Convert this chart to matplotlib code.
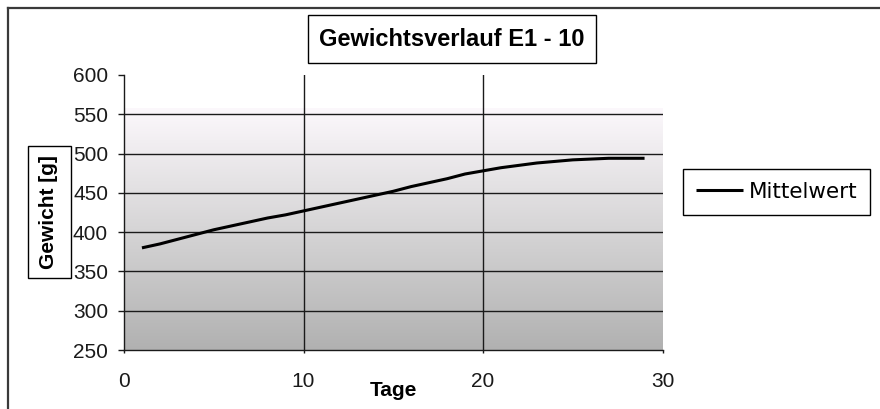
import numpy as np
import matplotlib
matplotlib.use("Agg")
import matplotlib.pyplot as plt
from matplotlib.patches import Rectangle
from matplotlib.lines import Line2D
from matplotlib.colors import LinearSegmentedColormap

# Daily mean body weight (g)
days = list(range(1, 30))
weight = [380, 385, 391, 397, 403, 408, 413, 418, 422, 427,
          432, 437, 442, 447, 452, 458, 463, 468, 474, 478,
          482, 485, 488, 490, 492, 493, 494, 494, 494]
series_name = "Mittelwert"
title = "Gewichtsverlauf E1 - 10"
x_label = "Tage"
y_label = "Gewicht [g]"
x_ticks = [0, 10, 20, 30]
y_ticks = [250, 300, 350, 400, 450, 500, 550, 600]
y_gridlines = [300, 350, 400, 450, 500, 550]
x_gridlines = [10, 20]

plt.rcParams['font.family'] = ['Liberation Sans', 'DejaVu Sans']

W, H = 880, 409
fig = plt.figure(figsize=(W / 100, H / 100), dpi=100)
fig.patch.set_facecolor('white')

# Axes area in pixel terms
ax_l, ax_r, ax_t, ax_b = 124, 662.5, 75, 350
ax = fig.add_axes([ax_l / W, 1 - ax_b / H, (ax_r - ax_l) / W, (ax_b - ax_t) / H])
ax.set_facecolor('white')

# Grey-to-white vertical gradient behind the plot
grad = LinearSegmentedColormap.from_list("bg", ["#b1b1b1", "#d6d5d6", "#fcf8fc"])
ax.imshow(np.linspace(0, 1, 256).reshape(-1, 1), cmap=grad, origin='lower',
          extent=(0, 30, 250, 557), aspect='auto', zorder=0,
          interpolation='bilinear')

for yv in y_gridlines:
    ax.axhline(yv, color='#1a1a1a', lw=1.0, zorder=1)
for xv in x_gridlines:
    ax.axvline(xv, color='#1a1a1a', lw=1.0, zorder=1)

ax.plot(days, weight, color='black', lw=2.2, label=series_name,
        solid_capstyle='butt', zorder=3)

ax.set_xlim(0, 30)
ax.set_ylim(250, 600)
ax.set_xticks(x_ticks)
ax.set_yticks(y_ticks)

for side in ('top', 'right'):
    ax.spines[side].set_visible(False)
for side in ('left', 'bottom'):
    ax.spines[side].set_color('#1a1a1a')
    ax.spines[side].set_linewidth(1.0)

ax.tick_params(axis='y', direction='out', length=4.5, width=1.0, pad=7,
               labelsize=15, colors='#1a1a1a')
ax.tick_params(axis='x', direction='out', length=2.5, width=1.0, pad=13,
               labelsize=15, colors='#1a1a1a')

# Axis labels
ax.set_xlabel(x_label, fontsize=15, fontweight='bold')
ax.xaxis.set_label_coords(0.5, (ax_b - 396.5) / (ax_b - ax_t))
ax.xaxis.label.set_va('baseline')

ax.set_ylabel(y_label, fontsize=15, fontweight='bold')
ax.yaxis.set_label_coords((53.5 - ax_l) / (ax_r - ax_l), (ax_b - 212.5) / (ax_b - ax_t))
ax.yaxis.label.set_va('baseline')
fig.add_artist(Rectangle((28 / W, 1 - 278 / H), 43 / W, 132 / H,
                         transform=fig.transFigure, fill=False,
                         ec='black', lw=1.0))

# Boxed title
fig.text(452 / W, 1 - 46 / H, title, ha='center', va='baseline',
         fontsize=17, fontweight='bold')
fig.add_artist(Rectangle((308 / W, 1 - 63 / H), 288 / W, 48 / H,
                         transform=fig.transFigure, fill=False,
                         ec='black', lw=1.0))

# Legend
leg = ax.legend(loc='center left', bbox_to_anchor=(683 / W, 1 - 192 / H),
                bbox_transform=fig.transFigure, frameon=True, fancybox=False,
                edgecolor='black', framealpha=1,
                prop={'family': 'DejaVu Sans', 'size': 15.5},
                handlelength=2.2, handletextpad=0.25, borderpad=0.6,
                borderaxespad=0)
leg.get_frame().set_linewidth(1.0)

# Chart frame (top and left edges)
fig.add_artist(Line2D([8 / W, 1], [1 - 8 / H, 1 - 8 / H],
                      transform=fig.transFigure, color='#3a3a3a', lw=1.6))
fig.add_artist(Line2D([8 / W, 8 / W], [0, 1 - 8 / H],
                      transform=fig.transFigure, color='#3a3a3a', lw=1.6))

fig.savefig('out.png', dpi=100)
